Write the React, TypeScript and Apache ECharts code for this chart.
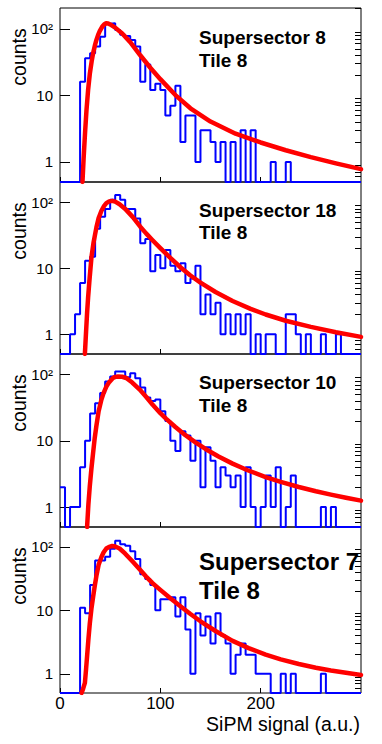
import React, { useEffect, useRef } from "react";
import * as echarts from "echarts";

const FONT = "'Liberation Sans', Arial, Helvetica, sans-serif";

// ---- data ----
const binWidth = 5;
const xMin = 0;
const xMax = 300;
const yMin = 0.5;
const yMax = 205;

const counts1 = [
  0, 0, 0, 0, 16, 36, 43, 54, 76, 119,
  121, 96, 81, 78, 68, 54, 16, 29, 12, 15,
  12, 5, 7, 14, 2, 5, 5, 1, 3, 3,
  2, 1, 2, 0, 2, 0, 3, 0, 3, 0,
  0, 0, 1, 0, 0, 1, 0, 0, 0, 0,
  0, 0, 0, 0, 0, 0, 0, 0, 0, 0,
];
const counts2 = [
  0, 0, 1, 2, 6, 13, 15, 40, 61, 80,
  110, 130, 110, 80, 80, 57, 24, 28, 9, 16,
  10, 19, 11, 9, 12, 6, 7, 11, 2, 4,
  2, 3, 1, 2, 1, 2, 1, 2, 0, 1,
  0, 1, 1, 0, 0, 2, 2, 1, 0, 1,
  0, 0, 1, 0, 0, 1, 0, 0, 0, 0,
];
const counts3 = [
  2, 0, 1, 1, 4, 10, 26, 37, 53, 79,
  94, 112, 112, 91, 105, 88, 64, 45, 40, 42,
  28, 20, 10, 7, 14, 12, 5, 10, 2, 8,
  5, 2, 4, 3, 2, 3, 1, 4, 1, 0,
  1, 3, 1, 4, 0, 1, 3, 0, 0, 0,
  0, 0, 1, 0, 1, 0, 0, 0, 0, 0,
];
const counts4 = [
  0, 0, 0, 0, 11, 9, 25, 61, 61, 70,
  93, 125, 110, 104, 85, 64, 37, 31, 25, 10,
  15, 15, 16, 8, 16, 5, 1, 9, 4, 8,
  3, 9, 4, 3, 1, 2, 3, 2, 2, 1,
  1, 1, 0, 0, 1, 0, 1, 0, 0, 0,
  0, 0, 1, 0, 0, 0, 0, 0, 0, 0,
];

const fit1: [number, number][] = [
  [22.4, 0.5], [23.5, 1.1], [25, 2.8], [26.4, 6], [28, 12], [29.7, 21], [31.5, 32],
  [33, 43], [35, 58], [36.3, 68], [38, 81], [39.6, 92], [42, 107], [44, 116], [46, 121],
  [48, 120], [50, 116], [55, 104], [62, 85], [70, 63], [80, 40], [90, 26], [100, 17.5],
  [115, 10.1], [130, 6.4], [150, 4.04], [175, 2.66], [200, 1.96], [225, 1.5], [250, 1.18],
  [275, 0.95], [300, 0.78],
];
const fit2: [number, number][] = [
  [24.8, 0.5], [26, 1.1], [27, 2.1], [28, 3.6], [29.5, 7], [31.4, 15], [33.5, 25], [36.3, 42],
  [38.5, 58], [41.3, 75], [44, 89], [46.2, 98], [49, 104], [52, 106], [55, 103], [59.4, 94],
  [65, 80], [72.6, 60], [80, 43], [85.8, 34], [92, 27], [100, 20.3], [110, 14.4], [120, 10.4],
  [130, 7.8], [140, 6.07], [155, 4.37], [172, 3.19], [190, 2.42], [205, 1.99], [225, 1.6],
  [250, 1.29], [275, 1.07], [300, 0.91],
];
const fit3: [number, number][] = [
  [27, 0.5], [28.3, 1.1], [29.7, 2.07], [31.3, 3.8], [33, 6.6], [34.6, 11], [36.3, 17],
  [38.5, 28], [41.3, 42], [43.5, 53], [46.2, 66], [49, 77], [52.8, 89], [55, 92.5], [57.8, 94],
  [62, 93], [66, 89], [72, 76], [79.2, 60], [86, 46], [92.4, 35], [100, 26.2], [105.6, 21.7],
  [115, 16.2], [125, 12.2], [135, 9.5], [145, 7.55], [158, 5.8], [172, 4.53], [187, 3.6],
  [205, 2.84], [220, 2.4], [238, 2.01], [255, 1.73], [270, 1.54], [285, 1.38], [300, 1.25],
];
const fit4: [number, number][] = [
  [21.5, 0.5], [23, 0.58], [24.8, 0.72], [26, 1.2], [27, 1.9], [28.3, 3.5], [29.7, 6.2],
  [31.3, 10.5], [33, 16.3], [34.6, 24], [36.3, 35], [38.5, 52], [41.3, 69], [43.5, 82],
  [46.2, 94], [49, 100], [52, 103], [55, 101], [59.4, 94], [65, 78], [72.6, 58], [80, 43],
  [85.8, 34], [92, 27], [100, 21], [110, 15.5], [120, 11.6], [130, 8.75], [140, 6.73],
  [155, 4.73], [172, 3.31], [188, 2.54], [205, 2.01], [220, 1.69], [238, 1.43], [255, 1.25],
  [270, 1.13], [285, 1.04], [300, 0.96],
];

const panelTitles = ["Supersector 8", "Supersector 18", "Supersector 10", "Supersector 7"];
const tileTitle = "Tile 8";
const yTitle = "counts";
const xTitle = "SiPM signal (a.u.)";
const yLabelValues = [1, 10, 100];
const yMinorValues = [0.6, 0.7, 0.8, 0.9, 2, 3, 4, 5, 6, 7, 8, 9, 20, 30, 40, 50, 60, 70, 80, 90, 200];
const xLabelValues = [0, 100, 200];

const allCounts = [counts1, counts2, counts3, counts4];
const allFits = [fit1, fit2, fit3, fit4];

// ---- layout ----
const PLOT_LEFT = 60;
const PLOT_WIDTH = 301;
const PANELS = [
  { top: 8, height: 174, countsY: 57, titleY: [37.9, 60.1], titleSize: 19 },
  { top: 182, height: 172, countsY: 231, titleY: [210.1, 232.7], titleSize: 19 },
  { top: 354, height: 173, countsY: 403, titleY: [382.7, 405.1], titleSize: 19 },
  { top: 527, height: 166, countsY: 576, titleY: [561, 590], titleSize: 24 },
];

function histPoints(counts: number[]): [number, number][] {
  const pts: [number, number][] = counts.map((c, k) => [xMin + k * binWidth, c > 0 ? c : yMin]);
  const last = counts[counts.length - 1];
  pts.push([xMin + counts.length * binWidth, last > 0 ? last : yMin]);
  return pts;
}

export default function App() {
  const ref = useRef<HTMLDivElement>(null);

  useEffect(() => {
    if (!ref.current) return;
    const chart = echarts.init(ref.current, undefined, { renderer: "svg" });

    const grid = PANELS.map((p) => ({
      left: PLOT_LEFT,
      top: p.top,
      width: PLOT_WIDTH,
      height: p.height,
      show: true,
      borderColor: "#000",
      borderWidth: 1,
      backgroundColor: "transparent",
      containLabel: false,
      outerBoundsMode: "none",
    }));

    const xAxis = PANELS.map((p, i) => ({
      type: "value",
      gridIndex: i,
      min: xMin,
      max: xMax,
      interval: 100,
      axisLine: { show: false },
      splitLine: { show: false },
      axisTick: {
        show: true,
        inside: true,
        length: 5,
        customValues: xLabelValues,
        lineStyle: { color: "#000", width: 1 },
      },
      axisLabel: {
        show: i === PANELS.length - 1,
        customValues: xLabelValues,
        fontSize: 17,
        color: "#000",
        fontFamily: FONT,
        margin: 2,
      },
    }));

    const yAxis: any[] = [];
    PANELS.forEach((p, i) => {
      yAxis.push({
        type: "log",
        logBase: 10,
        gridIndex: i,
        min: yMin,
        max: yMax,
        axisLine: { show: false },
        splitLine: { show: false },
        axisTick: {
          show: true,
          inside: true,
          length: 10,
          customValues: yLabelValues,
          lineStyle: { color: "#000", width: 1 },
        },
        axisLabel: {
          show: true,
          customValues: yLabelValues,
          fontSize: 15,
          color: "#000",
          fontFamily: FONT,
          margin: 7,
          formatter: (v: number) => (v >= 100 ? "10²" : String(v)),
        },
      });
      yAxis.push({
        type: "log",
        logBase: 10,
        gridIndex: i,
        min: yMin,
        max: yMax,
        axisLine: { show: false },
        splitLine: { show: false },
        axisTick: {
          show: true,
          inside: true,
          length: 6,
          customValues: yMinorValues,
          lineStyle: { color: "#000", width: 1 },
        },
        axisLabel: { show: false },
      });
    });

    const series: any[] = [];
    allCounts.forEach((counts, i) => {
      series.push({
        type: "line",
        xAxisIndex: i,
        yAxisIndex: 2 * i,
        data: histPoints(counts),
        step: "end",
        symbol: "none",
        clip: false,
        z: 2,
        lineStyle: { color: "#0000ff", width: 2 },
      });
      series.push({
        type: "line",
        xAxisIndex: i,
        yAxisIndex: 2 * i,
        data: allFits[i],
        smooth: false,
        symbol: "none",
        clip: true,
        z: 3,
        lineStyle: { color: "#ff0000", width: 4.5, join: "round", cap: "round" },
      });
    });

    const graphic: any[] = [];
    PANELS.forEach((p, i) => {
      graphic.push({
        type: "text",
        x: 19,
        y: p.countsY,
        rotation: Math.PI / 2,
        style: {
          text: yTitle,
          fontSize: 19.5,
          fontFamily: FONT,
          fill: "#000",
          align: "center",
          verticalAlign: "middle",
        },
      });
      graphic.push({
        type: "text",
        x: 199,
        y: p.titleY[0],
        style: {
          text: panelTitles[i],
          fontSize: p.titleSize,
          fontWeight: "bold",
          fontFamily: FONT,
          fill: "#000",
          align: "left",
          verticalAlign: "middle",
        },
      });
      graphic.push({
        type: "text",
        x: 199,
        y: p.titleY[1],
        style: {
          text: tileTitle,
          fontSize: p.titleSize,
          fontWeight: "bold",
          fontFamily: FONT,
          fill: "#000",
          align: "left",
          verticalAlign: "middle",
        },
      });
    });
    graphic.push({
      type: "text",
      x: 360,
      y: 724,
      style: {
        text: xTitle,
        fontSize: 19.5,
        fontFamily: FONT,
        fill: "#000",
        align: "right",
        verticalAlign: "middle",
      },
    });

    chart.setOption({
      animation: false,
      backgroundColor: "#fff",
      grid,
      xAxis,
      yAxis,
      series,
      graphic,
    });

    return () => chart.dispose();
  }, []);

  return (
    <div
      ref={ref}
      style={{ position: "absolute", left: 0, top: 0, width: 382, height: 744 }}
    />
  );
}
